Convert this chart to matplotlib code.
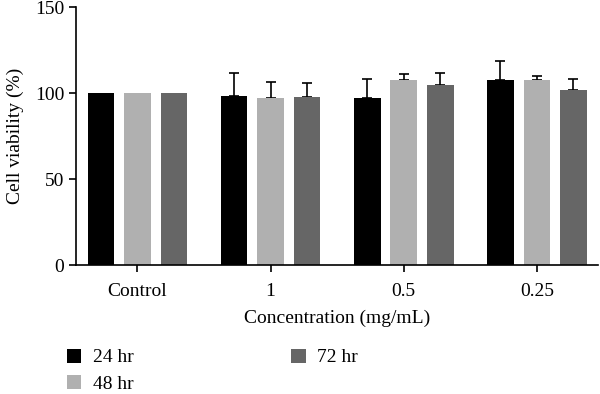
import matplotlib.pyplot as plt
import numpy as np

plt.rcParams["font.family"] = ["Liberation Serif", "DejaVu Serif"]

concentrations = ["Control", "1", "0.5", "0.25"]
series = ["24 hr", "48 hr", "72 hr"]
colors = ["#000000", "#b0b0b0", "#666666"]

viability_24 = [100, 98.3, 96.9, 107.7]
viability_48 = [100, 97.1, 107.6, 107.6]
viability_72 = [100, 97.9, 104.7, 102.1]
error_24 = [0, 13.5, 11.2, 10.9]
error_48 = [0, 9.5, 3.4, 2.4]
error_72 = [0, 7.7, 6.9, 6.0]

values = [viability_24, viability_48, viability_72]
errors = [error_24, error_48, error_72]

fig = plt.figure(figsize=(6, 3.94), dpi=100)
ax = fig.add_axes([0.127, 0.327, 0.87, 0.655])

x = np.arange(len(concentrations))
width = 0.2
offset = 0.274
for i, (name, vals, errs, color) in enumerate(zip(series, values, errors, colors)):
    pos = x + (i - 1) * offset
    errs = np.array(errs)
    ax.bar(pos, vals, width=width, color=color, label=name, zorder=2)
    shown = errs > 0
    ax.errorbar(
        pos[shown],
        np.array(vals)[shown],
        yerr=[np.zeros(shown.sum()), errs[shown]],
        fmt="none",
        ecolor="black",
        elinewidth=1.2,
        capsize=3.5,
        capthick=1.2,
        zorder=1,
    )

ax.set_xlim(-0.46, 3.46)
ax.set_ylim(0, 150)
ax.set_yticks([0, 50, 100, 150])
ax.set_xticks(x)
ax.set_xticklabels(concentrations)
ax.spines["top"].set_visible(False)
ax.spines["right"].set_visible(False)
for side in ["left", "bottom"]:
    ax.spines[side].set_linewidth(1.2)
ax.tick_params(width=1.2, length=5, labelsize=14)
ax.tick_params(axis="x", pad=8)
ax.set_ylabel("Cell viability (%)", fontsize=14)
ax.yaxis.set_label_coords(-0.1, 0.5)
ax.set_xlabel("Concentration (mg/mL)", fontsize=14, labelpad=7)

fig.legend(
    loc="upper left",
    bbox_to_anchor=(0.095, 0.14),
    ncol=2,
    frameon=False,
    fontsize=14,
    handlelength=0.75,
    handleheight=0.75,
    handletextpad=0.6,
    columnspacing=8.1,
    labelspacing=0.45,
    borderpad=0,
)

fig.savefig("out.png", dpi=100)
